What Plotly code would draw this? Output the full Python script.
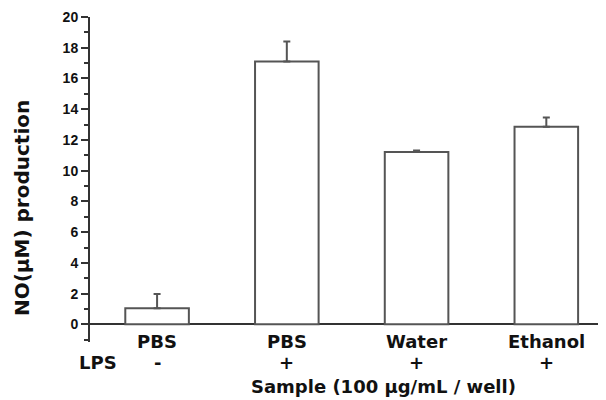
import plotly.graph_objects as go

categories = ["PBS", "PBS", "Water", "Ethanol"]
lps = ["-", "+", "+", "+"]
values = [1.04, 17.1, 11.22, 12.86]
errors = [0.93, 1.3, 0.1, 0.6]
y_ticks = [0, 2, 4, 6, 8, 10, 12, 14, 16, 18, 20]

x_pos = list(range(len(categories)))
bar_col = "#555555"
axis_col = "#333333"
txt_col = "#111111"
lab_font = dict(family="DejaVu Sans", size=18, color=txt_col, weight="bold")

fig = go.Figure()
fig.add_trace(go.Bar(
    x=x_pos, y=values, width=0.49,
    marker=dict(color="white", line=dict(color=bar_col, width=2)),
    error_y=dict(type="data", array=errors, arrayminus=[0]*len(errors),
                 symmetric=False, color=bar_col, thickness=2, width=3.5),
    showlegend=False,
))

annotations = []
for xi, c, s in zip(x_pos, categories, lps):
    annotations.append(dict(x=xi, xref="x", xanchor="center", y=0, yref="paper",
                            yanchor="middle", yshift=1, text=c, showarrow=False, font=lab_font))
    annotations.append(dict(x=xi, xref="x", xanchor="center", y=0, yref="paper",
                            yanchor="middle", yshift=-20, text=s, showarrow=False, font=lab_font))
annotations.append(dict(x=0, xref="paper", xanchor="center", xshift=8, y=0, yref="paper",
                        yanchor="middle", yshift=-20, text="LPS", showarrow=False, font=lab_font))
annotations.append(dict(x=1.5, xref="x", xanchor="center", xshift=32, y=0, yref="paper",
                        yanchor="middle", yshift=-44, text="Sample (100 µg/mL / well)",
                        showarrow=False, font=lab_font))
annotations.append(dict(x=0, xref="paper", xshift=-68, y=0.412, yref="paper",
                        xanchor="center", yanchor="middle", textangle=-90,
                        text="NO(µM) production", showarrow=False,
                        font=dict(family="DejaVu Sans", size=20, color=txt_col, weight="bold")))

fig.update_layout(
    width=598, height=392,
    margin=dict(l=82, r=0, t=9, b=58, pad=0),
    plot_bgcolor="white", paper_bgcolor="white",
    xaxis=dict(range=[-0.517, 3.46], showgrid=False, showline=False, zeroline=False,
               showticklabels=False, ticks=""),
    yaxis=dict(range=[-1.15, 20], tickvals=y_ticks,
               showgrid=False, showline=True, linecolor=axis_col, linewidth=2,
               ticks="outside", ticklen=7, tickwidth=2, tickcolor=axis_col,
               tickfont=dict(family="Liberation Sans", size=14, color=txt_col, weight="bold"),
               zeroline=True, zerolinecolor=axis_col, zerolinewidth=2,
               minor=dict(dtick=1, tick0=0, ticks="outside", ticklen=4, tickwidth=2,
                          tickcolor=axis_col, showgrid=False)),
    annotations=annotations,
)

fig.write_html("out.html")
